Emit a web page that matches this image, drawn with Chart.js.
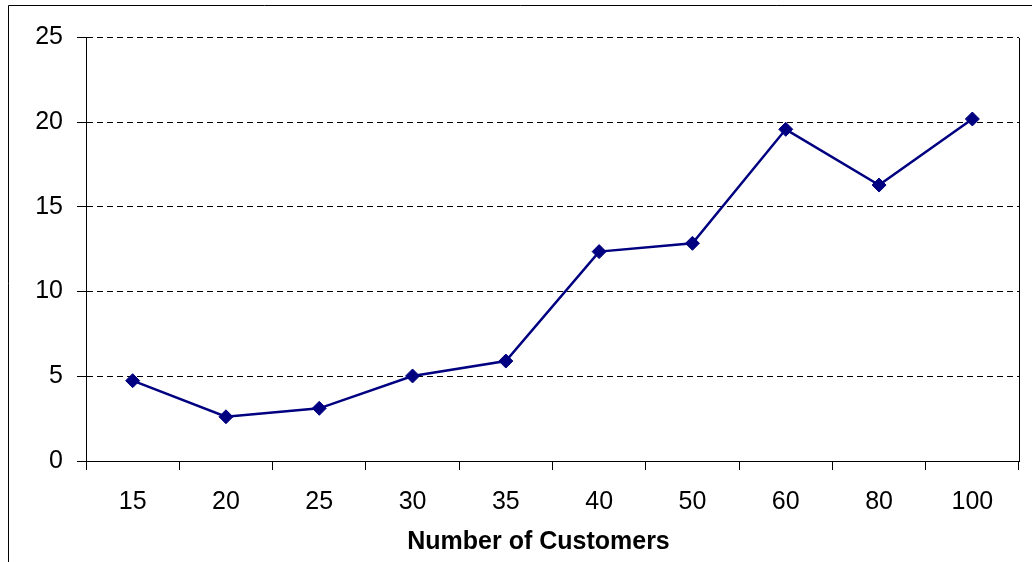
<!DOCTYPE html>
<html>
<head>
<meta charset="utf-8">
<script src="https://cdn.jsdelivr.net/npm/chart.js@4/dist/chart.umd.min.js"></script>
<style>
  html, body { margin: 0; padding: 0; background: #ffffff; }
  #wrap { width: 1032px; height: 562px; position: relative; }
</style>
</head>
<body>
<div id="wrap"><canvas id="chart" width="1032" height="562"></canvas></div>
<script>
// Customers per run and the measured value for each
const customerCounts = ['15', '20', '25', '30', '35', '40', '50', '60', '80', '100'];
const measuredValues = [4.74, 2.61, 3.11, 5.02, 5.90, 12.36, 12.85, 19.58, 16.29, 20.19];
const yTickValues = [0, 5, 10, 15, 20, 25];
const xAxisTitle = 'Number of Customers';

const FONT = "'Liberation Sans', Arial, sans-serif";

// Outer frame (left and top edges), solid left and right edges of the plot area,
// and the x-axis title, which sits a little left of the plot's centre
const framePlugin = {
  id: 'frame',
  afterDraw(chart) {
    const ctx = chart.ctx;
    const area = chart.chartArea;
    ctx.save();
    ctx.strokeStyle = '#000000';
    ctx.lineWidth = 1;
    ctx.setLineDash([]);
    ctx.beginPath();
    ctx.moveTo(8.5, chart.height);
    ctx.lineTo(8.5, 5.5);
    ctx.lineTo(chart.width, 5.5);
    ctx.stroke();
    const top = Math.round(area.top);
    const bottom = Math.round(area.bottom);
    const lx = Math.round(area.left) + 0.5;
    const rx = Math.round(area.right) + 0.5;
    ctx.beginPath();
    ctx.moveTo(lx, top);
    ctx.lineTo(lx, bottom);
    ctx.moveTo(rx, top);
    ctx.lineTo(rx, bottom);
    ctx.stroke();

    ctx.fillStyle = '#000000';
    ctx.font = "bold 25px " + FONT;
    ctx.textAlign = 'center';
    ctx.textBaseline = 'middle';
    ctx.fillText(xAxisTitle, (area.left + area.right) / 2 - 14, 542);
    ctx.restore();
  }
};

new Chart(document.getElementById('chart'), {
  type: 'line',
  data: {
    labels: customerCounts,
    datasets: [{
      data: measuredValues,
      borderColor: '#000080',
      backgroundColor: '#000080',
      borderWidth: 2.5,
      pointStyle: 'rectRot',
      pointRadius: 7,
      pointHoverRadius: 7,
      pointBorderWidth: 1,
      tension: 0,
      fill: false
    }]
  },
  options: {
    responsive: false,
    animation: false,
    events: [],
    layout: { padding: { top: 37.5, right: 13, bottom: 0, left: 0 } },
    plugins: {
      legend: { display: false },
      tooltip: { enabled: false }
    },
    scales: {
      x: {
        type: 'category',
        offset: true,
        afterFit(scale) { scale.height = 101; },
        grid: {
          offset: true,
          drawOnChartArea: false,
          drawTicks: true,
          tickLength: 9,
          tickColor: '#000000',
          color: '#000000'
        },
        border: { display: true, color: '#000000', width: 1 },
        ticks: {
          color: '#000000',
          font: { family: FONT, size: 25 },
          padding: 17,
          maxRotation: 0,
          autoSkip: false
        },
        title: { display: false }
      },
      y: {
        min: 0,
        max: 25,
        afterFit(scale) { scale.width = 86; },
        afterBuildTicks(scale) { scale.ticks = yTickValues.map(v => ({ value: v })); },
        grid: {
          color: '#000000',
          lineWidth: 1,
          tickLength: 9,
          tickColor: '#000000',
          tickBorderDash: []
        },
        border: { display: true, color: '#000000', width: 1, dash: [6, 4] },
        ticks: {
          color: '#000000',
          font: { family: FONT, size: 25 },
          padding: 14
        }
      }
    }
  },
  plugins: [framePlugin]
});
</script>
</body>
</html>
